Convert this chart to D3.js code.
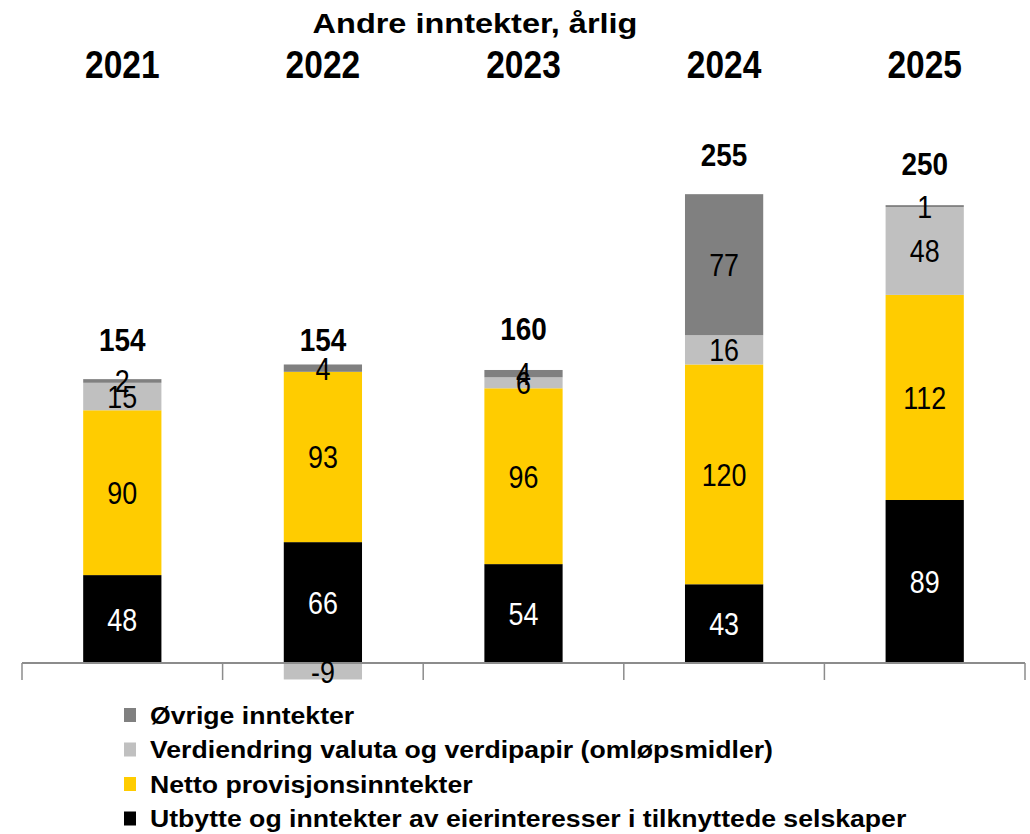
<!DOCTYPE html>
<html>
<head>
<meta charset="utf-8">
<script src="https://cdn.jsdelivr.net/npm/d3@7"></script>
<style>
  body { margin: 0; background: #fff; }
  svg { display: block; font-family: "Liberation Sans", Arial, sans-serif; }
</style>
</head>
<body>
<svg id="chart" width="1030" height="834"></svg>
<script>
// data
var years = [ '2021', '2022', '2023', '2024', '2025' ];
var utbytte = [ 48, 66, 54, 43, 89 ];
var netto = [ 90, 93, 96, 120, 112 ];
var verdiendring = [ 15, -9, 6, 16, 48 ];
var ovrige = [ 2, 4, 4, 77, 1 ];
var totals = [ 154, 154, 160, 255, 250 ];

var seriesKeys = [ 'utbytte', 'netto', 'verdiendring', 'ovrige' ];
var seriesNames = {
	utbytte: 'Utbytte og inntekter av eierinteresser i tilknyttede selskaper',
	netto: 'Netto provisjonsinntekter',
	verdiendring: 'Verdiendring valuta og verdipapir (omløpsmidler)',
	ovrige: 'Øvrige inntekter'
};
var colors = { utbytte: '#000000', netto: '#ffcc00', verdiendring: '#c0c0c0', ovrige: '#808080' };
var labelColors = { utbytte: '#ffffff', netto: '#000000', verdiendring: '#000000', ovrige: '#000000' };

var rows = years.map( function( yr, i ) {
	return { year: yr, utbytte: utbytte[ i ], netto: netto[ i ], verdiendring: verdiendring[ i ], ovrige: ovrige[ i ], total: totals[ i ] };
} );

var svg = d3.select( '#chart' );

var x = d3.scaleBand()
	.domain( years )
	.range( [ 22, 1025 ] )
	.paddingInner( 0.61 )
	.paddingOuter( 0.305 );

var y = d3.scaleLinear()
	.domain( [ 0, 255 ] )
	.range( [ 663, 196 ] );

var stacked = d3.stack()
	.keys( seriesKeys )
	.offset( d3.stackOffsetDiverging )( rows );

// the source text is stretched, so scale glyphs horizontally
function place( sx ) {
	return function( sel ) {
		sel.attr( 'transform', function( d ) {
			return 'translate(' + d.px + ',' + d.py + ') scale(' + sx + ',1)';
		} );
	};
}

function center( yr ) { return x( yr ) + x.bandwidth() / 2; }

// title and year headers
svg.append( 'text' )
	.datum( { px: 475, py: 33 } )
	.call( place( 1.16 ) )
	.attr( 'text-anchor', 'middle' )
	.attr( 'font-size', 28 ).attr( 'font-weight', 'bold' )
	.text( 'Andre inntekter, årlig' );

svg.selectAll( 'text.year' )
	.data( years.map( function( d ) { return { yr: d, px: center( d ), py: 78 }; } ) )
	.enter()
	.append( 'text' )
		.attr( 'class', 'year' )
		.call( place( 0.86 ) )
		.attr( 'text-anchor', 'middle' )
		.attr( 'font-size', 39 ).attr( 'font-weight', 'bold' )
		.text( function( d ) { return d.yr; } );

// bars
var layer = svg.selectAll( 'g.layer' )
	.data( stacked )
	.enter()
	.append( 'g' )
		.attr( 'class', 'layer' )
		.attr( 'fill', function( s ) { return colors[ s.key ]; } );

layer.selectAll( 'rect' )
	.data( function( s ) { return s; } )
	.enter()
	.append( 'rect' )
		.attr( 'x', function( d ) { return x( d.data.year ); } )
		.attr( 'y', function( d ) { return y( d[ 1 ] ); } )
		.attr( 'width', x.bandwidth() )
		.attr( 'height', function( d ) { return y( d[ 0 ] ) - y( d[ 1 ] ); } );

// axis line with category ticks
var bounds = years.map( function( d ) { return x( d ) - ( x.step() - x.bandwidth() ) / 2; } );
bounds.push( bounds[ bounds.length - 1 ] + x.step() );

svg.append( 'line' )
	.attr( 'x1', bounds[ 0 ] ).attr( 'x2', bounds[ bounds.length - 1 ] )
	.attr( 'y1', y( 0 ) ).attr( 'y2', y( 0 ) )
	.attr( 'stroke', '#8c8c8c' ).attr( 'stroke-width', 2 );

svg.selectAll( 'line.tick' )
	.data( bounds )
	.enter()
	.append( 'line' )
		.attr( 'class', 'tick' )
		.attr( 'x1', function( d ) { return d; } ).attr( 'x2', function( d ) { return d; } )
		.attr( 'y1', y( 0 ) ).attr( 'y2', y( 0 ) + 17 )
		.attr( 'stroke', '#8c8c8c' ).attr( 'stroke-width', 1.5 );

// segment labels
stacked.forEach( function( s ) {
	svg.selectAll( 'text.seg-' + s.key )
		.data( s.map( function( d ) {
			return { v: d.data[ s.key ], px: center( d.data.year ), py: ( y( d[ 0 ] ) + y( d[ 1 ] ) ) / 2 };
		} ) )
		.enter()
		.append( 'text' )
			.attr( 'class', 'seg-' + s.key )
			.call( place( 0.84 ) )
			.attr( 'dy', '0.36em' )
			.attr( 'text-anchor', 'middle' )
			.attr( 'font-size', 32 )
			.attr( 'fill', labelColors[ s.key ] )
			.text( function( d ) { return d.v; } );
} );

// totals
svg.selectAll( 'text.total' )
	.data( rows.map( function( d ) { return { v: d.total, px: center( d.year ), py: y( d.total ) - 41 }; } ) )
	.enter()
	.append( 'text' )
		.attr( 'class', 'total' )
		.call( place( 0.9 ) )
		.attr( 'dy', '0.36em' )
		.attr( 'text-anchor', 'middle' )
		.attr( 'font-size', 31 ).attr( 'font-weight', 'bold' )
		.text( function( d ) { return d.v; } );

// legend, top entry is the top of the stack
var legendKeys = seriesKeys.slice().reverse();
var legend = svg.selectAll( 'g.legend' )
	.data( legendKeys )
	.enter()
	.append( 'g' )
		.attr( 'class', 'legend' )
		.attr( 'transform', function( d, i ) { return 'translate(124,' + ( 715 + i * 34.5 ) + ')'; } );

legend.append( 'rect' )
	.attr( 'x', 0 ).attr( 'y', -7 )
	.attr( 'width', 12 ).attr( 'height', 14 )
	.attr( 'fill', function( d ) { return colors[ d ]; } );

legend.append( 'text' )
	.attr( 'transform', 'translate(26,0) scale(1.11,1)' )
	.attr( 'dy', '0.36em' )
	.attr( 'font-size', 24 ).attr( 'font-weight', 'bold' )
	.text( function( d ) { return seriesNames[ d ]; } );
</script>
</body>
</html>
